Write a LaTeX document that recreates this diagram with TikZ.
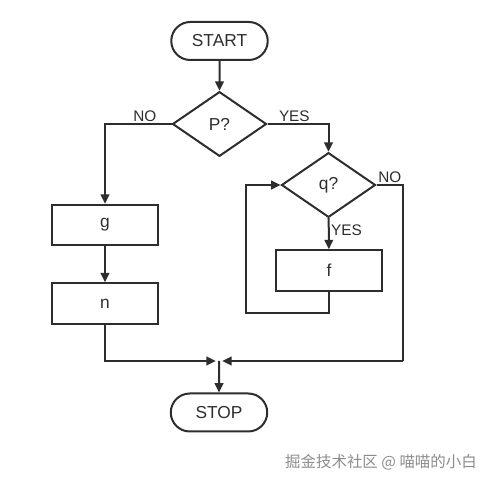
\documentclass[tikz,border=0pt]{standalone}
\usepackage{fontspec}
\setmainfont{Liberation Sans}
\newfontfamily\cjkfont{Noto Sans CJK SC}
\usetikzlibrary{
    arrows.meta,
    positioning,
    shapes.geometric,
    shapes.misc
}
\definecolor{ink}{RGB}{45,45,45}
\definecolor{mark}{RGB}{140,140,140}
\tikzset{
    line cap=round,
    line join=miter,
    box/.style={
        rectangle,
        draw=ink,
        line width=1.5pt,
        minimum width=79.5pt,
        minimum height=30.5pt,
        text=ink,
        font=\fontsize{13}{15}\selectfont
    },
    terminal/.style={
        box,
        rounded rectangle,
        minimum width=79pt,
        minimum height=28.5pt
    },
    decision/.style={
        diamond,
        draw=ink,
        line width=1.5pt,
        inner sep=0pt,
        minimum width=70.5pt,
        minimum height=48.5pt,
        text=ink,
        font=\fontsize{13}{15}\selectfont
    },
    flow/.style={
        -{Triangle[length=7pt,width=6.5pt]},
        draw=ink,
        line width=1.5pt
    },
    line/.style={
        draw=ink,
        line width=1.5pt
    },
    lbl/.style={
        text=ink,
        inner sep=1pt,
        font=\fontsize{11.5}{13}\selectfont
    }
}

\begin{document}
\begin{tikzpicture}[x=0.75pt, y=-0.75pt]
\useasboundingbox (0,0) rectangle (486,484);

% nodes
\node[terminal] (start) at (219.5, 41) {START};
\node[decision] (p) at (219.5, 124) {P?};
\node[box] (g) at (105, 225) {g};
\node[box] (n) at (105, 303.5) {n};
\node[decision] (q) at (328.5, 185) {q?};
\node[box] (f) at (329, 270.5) {f};
\node[terminal] (stop) at (219, 412.5) {STOP};

\coordinate (join) at (219, 361);
\coordinate (loop) at (246, 313);
\coordinate (qout) at (403, 361);

% connectors
\draw[flow] (start) -- (p);
\draw[flow] (p.west) -| node[lbl, above, pos=0.2] (pno) {NO} (g);
\draw[flow] (p.east) -| node[lbl, above, pos=0.22] (pyes) {YES} (q);
\draw[flow] (g) -- (n);
\draw[flow] (q) -- node[lbl, right, pos=0.38] (qyes) {YES} (f);
\draw[flow] (f.south) |- (loop) |- (q.west);
\draw[line] (q.east) -| node[lbl, above, pos=0.25] (qno) {NO} (qout);
\draw[flow, shorten >=2.5pt] (qout) -- (join);
\draw[flow, shorten >=2.5pt] (n.south) |- (join);
\draw[flow] (join) -- (stop);

% watermark
\node[text=mark, font=\cjkfont\fontsize{11.6}{13}\selectfont] (wm) at (381, 462) {掘金技术社区 @ 喵喵的小白};

\end{tikzpicture}
\end{document}
